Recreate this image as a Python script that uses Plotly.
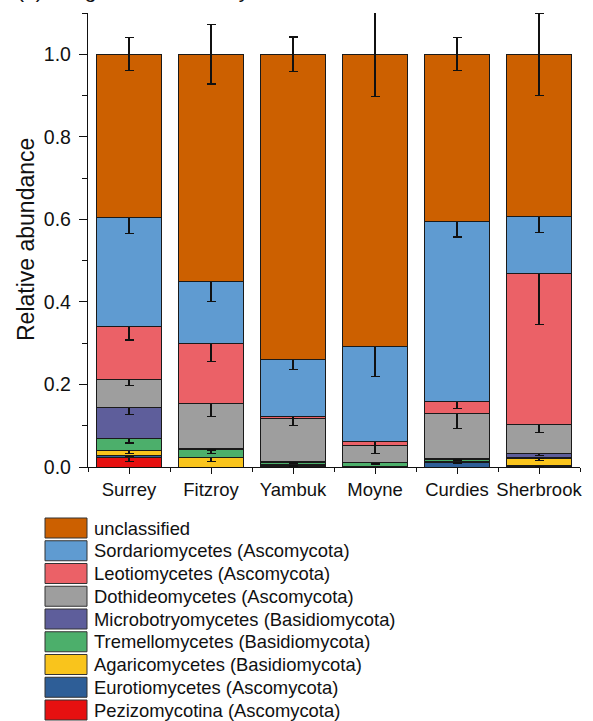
import plotly.graph_objects as go

sites = ["Surrey", "Fitzroy", "Yambuk", "Moyne", "Curdies", "Sherbrook"]

# series listed bottom -> top of stack
taxa = [
    "Pezizomycotina (Ascomycota)",
    "Eurotiomycetes (Ascomycota)",
    "Agaricomycetes (Basidiomycota)",
    "Tremellomycetes (Basidiomycota)",
    "Microbotryomycetes (Basidiomycota)",
    "Dothideomycetes (Ascomycota)",
    "Leotiomycetes (Ascomycota)",
    "Sordariomycetes (Ascomycota)",
    "unclassified",
]
colors = ["#E61010", "#2E5E97", "#F9C41C", "#4CAF6B", "#5E5E9B",
          "#9E9E9E", "#EB6167", "#5F9BD1", "#CC6000"]

pezizomycotina = [0.022, 0.000, 0.001, 0.000, 0.000, 0.001]
eurotiomycetes = [0.007, 0.000, 0.002, 0.001, 0.012, 0.003]
agaricomycetes = [0.011, 0.022, 0.004, 0.000, 0.002, 0.017]
tremellomycetes = [0.030, 0.020, 0.004, 0.011, 0.005, 0.002]
microbotryomycetes = [0.074, 0.003, 0.002, 0.000, 0.002, 0.009]
dothideomycetes = [0.068, 0.110, 0.104, 0.040, 0.108, 0.070]
leotiomycetes = [0.128, 0.144, 0.006, 0.011, 0.029, 0.367]
sordariomycetes = [0.265, 0.150, 0.138, 0.230, 0.436, 0.139]
unclassified = [0.395, 0.551, 0.739, 0.707, 0.406, 0.392]

err_pezizomycotina = [0.009, 0.000, 0.001, 0.000, 0.000, 0.001]
err_eurotiomycetes = [0.004, 0.000, 0.002, 0.001, 0.003, 0.003]
err_agaricomycetes = [0.007, 0.008, 0.002, 0.000, 0.002, 0.006]
err_tremellomycetes = [0.012, 0.009, 0.003, 0.005, 0.004, 0.003]
err_microbotryomycetes = [0.016, 0.004, 0.003, 0.000, 0.002, 0.004]
err_dothideomycetes = [0.015, 0.032, 0.017, 0.020, 0.036, 0.018]
err_leotiomycetes = [0.032, 0.044, 0.006, 0.011, 0.016, 0.123]
err_sordariomycetes = [0.040, 0.048, 0.025, 0.073, 0.037, 0.040]
err_unclassified = [0.040, 0.072, 0.042, 0.103, 0.040, 0.100]

values = [pezizomycotina, eurotiomycetes, agaricomycetes, tremellomycetes,
          microbotryomycetes, dothideomycetes, leotiomycetes, sordariomycetes,
          unclassified]
errors = [err_pezizomycotina, err_eurotiomycetes, err_agaricomycetes,
          err_tremellomycetes, err_microbotryomycetes, err_dothideomycetes,
          err_leotiomycetes, err_sordariomycetes, err_unclassified]

yticks = [0.0, 0.2, 0.4, 0.6, 0.8, 1.0]

FONT = "Arial, Liberation Sans, sans-serif"
W, H = 593, 721
ML, MR, MT, MB = 88, 13, 13, 254
PW, PH = W - ML - MR, H - MT - MB


def px(x):
    return (x - ML) / PW


def py(y):
    return (H - MB - y) / PH


xidx = list(range(len(sites)))
fig = go.Figure()
for name, col, vals, errs in zip(taxa, colors, values, errors):
    fig.add_trace(go.Bar(
        x=xidx, y=vals, name=name, width=0.8,
        marker=dict(color=col, line=dict(color="#1a1a1a", width=1)),
        error_y=dict(type="data", array=errs, visible=True,
                     color="#111111", thickness=1.3, width=4.5),
        showlegend=False,
    ))

shapes = []
annotations = []
# manual legend (top of stack first)
for i, (name, col) in enumerate(zip(taxa[::-1], colors[::-1])):
    cy = 528 + i * 22.75
    shapes.append(dict(type="rect", xref="paper", yref="paper",
                       x0=px(45), x1=px(87), y0=py(cy + 10), y1=py(cy - 10),
                       fillcolor=col, line=dict(color="#333333", width=1)))
    annotations.append(dict(x=px(92), y=py(cy), xref="paper", yref="paper",
                            text=name, showarrow=False, xanchor="left",
                            yanchor="middle",
                            font=dict(family=FONT, size=18.4, color="#111111")))

# y axis title
annotations.append(dict(x=px(26), y=py(240), xref="paper", yref="paper",
                        text="Relative abundance", textangle=-90,
                        showarrow=False, xanchor="center", yanchor="middle",
                        font=dict(family=FONT, size=23, color="#111111")))
# cut-off panel title (only its lower edge is visible in the reference)
annotations.append(dict(x=px(15), y=py(4), xref="paper", yref="paper",
                        text="(b) Fungal class diversity", showarrow=False,
                        xanchor="left", yanchor="bottom",
                        font=dict(family=FONT, size=21, color="#111111")))

fig.update_layout(
    width=W, height=H,
    margin=dict(l=ML, r=MR, t=MT, b=MB, pad=0),
    barmode="stack",
    plot_bgcolor="white", paper_bgcolor="white",
    font=dict(family=FONT, color="#111111"),
    shapes=shapes, annotations=annotations,
    xaxis=dict(
        range=[-0.5, 5.5], tickmode="array", tickvals=xidx, ticktext=sites,
        ticks="outside", ticklen=6, tickwidth=1.3, tickcolor="#111111",
        showline=True, linecolor="#111111", linewidth=1.3,
        showgrid=False, zeroline=False,
        tickfont=dict(family=FONT, size=18.5, color="#111111"),
        minor=dict(tickmode="array",
                   tickvals=[i - 0.5 for i in range(len(sites) + 1)],
                   ticks="outside", ticklen=4, tickwidth=1.3,
                   tickcolor="#111111", showgrid=False),
    ),
    yaxis=dict(
        range=[0, 1.1], tickmode="array", tickvals=yticks,
        tickformat=".1f", ticks="outside", ticklen=8, tickwidth=1.3,
        tickcolor="#111111", showline=True, linecolor="#111111",
        linewidth=1.3, showgrid=False, zeroline=False,
        ticklabelstandoff=4,
        tickfont=dict(family=FONT, size=19.5, color="#111111"),
        minor=dict(dtick=0.1, tick0=0, ticks="outside", ticklen=5,
                   tickwidth=1.3, tickcolor="#111111", showgrid=False),
    ),
)

fig.write_html("out.html")
